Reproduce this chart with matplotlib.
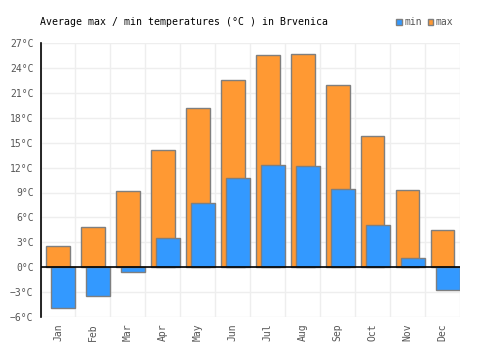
import numpy as np
import matplotlib.pyplot as plt
from matplotlib.ticker import FuncFormatter, MultipleLocator

months = ['Jan', 'Feb', 'Mar', 'Apr', 'May', 'Jun',
          'Jul', 'Aug', 'Sep', 'Oct', 'Nov', 'Dec']
temp_max = [2.5, 4.8, 9.2, 14.1, 19.2, 22.6, 25.6, 25.7, 22.0, 15.8, 9.3, 4.5]
temp_min = [-4.9, -3.5, -0.6, 3.5, 7.7, 10.7, 12.3, 12.2, 9.4, 5.1, 1.1, -2.8]

plt.rcParams['font.family'] = ['DejaVu Sans Mono']

fig = plt.figure(figsize=(5, 3.5), dpi=100)
ax = fig.add_axes([0.081, 0.095, 0.839, 0.781])

x = np.arange(len(months))
w = 0.68
ax.bar(x, temp_max, width=w, color='#ff9933', edgecolor='#7f7f7f', linewidth=1, zorder=2, label='max')
ax.bar(x + 0.15, temp_min, width=w, color='#3399ff', edgecolor='#7f7f7f', linewidth=1, zorder=3, label='min')

ax.set_xlim(-0.5, 11.5)
ax.set_ylim(-6, 27)
ax.yaxis.set_major_locator(MultipleLocator(3))
ax.yaxis.set_major_formatter(FuncFormatter(lambda v, p: f'{int(v)}°C'.replace('-', '−')))
ax.set_xticks(x)
ax.set_xticklabels(months, rotation=90)
ax.set_xticks(np.arange(-0.5, 12, 1), minor=True)

ax.grid(False)
ax.grid(True, which='minor', axis='x', color='#eeeeee', linewidth=1, zorder=0)
ax.grid(True, which='major', axis='y', color='#eeeeee', linewidth=1, zorder=0)
ax.axhline(0, color='black', linewidth=1.2, zorder=4)

for s in ['top', 'right', 'bottom']:
    ax.spines[s].set_visible(False)
ax.spines['left'].set_color('black')
ax.spines['left'].set_linewidth(1.2)
ax.tick_params(axis='both', which='both', length=0, colors='#555555', labelsize=7)
ax.tick_params(axis='y', pad=5)
ax.tick_params(axis='x', pad=5)

fig.text(0.08, 0.937, 'Average max / min temperatures (°C ) in Brvenica', fontsize=7.1, color='black', va='center')

handles, labels = ax.get_legend_handles_labels()
leg = fig.legend(handles[::-1], labels[::-1], loc='center right', bbox_to_anchor=(0.906, 0.937),
                 ncol=2, frameon=False, fontsize=7, handlelength=0.6, handleheight=0.6,
                 handletextpad=0.2, columnspacing=0.6, borderpad=0, borderaxespad=0)
for t in leg.get_texts():
    t.set_color('#555555')

fig.savefig('out.png', dpi=100)
